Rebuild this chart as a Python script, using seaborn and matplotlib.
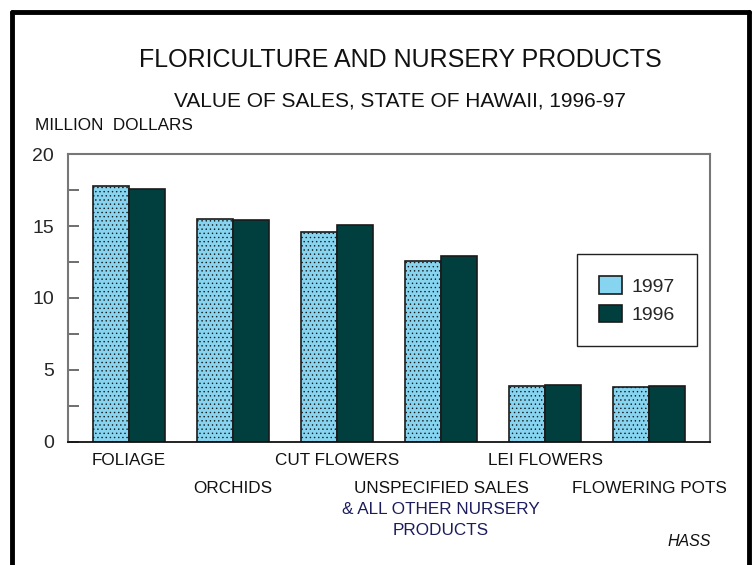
import matplotlib
matplotlib.use("Agg")
import matplotlib.pyplot as plt
import seaborn as sns
import pandas as pd
from matplotlib.lines import Line2D
from matplotlib.ticker import MultipleLocator

categories = ["FOLIAGE", "ORCHIDS", "CUT FLOWERS", "UNSPECIFIED SALES", "LEI FLOWERS", "FLOWERING POTS"]
years = ["1997", "1996"]
values_1997 = [17.8, 15.5, 14.6, 12.6, 3.85, 3.78]
values_1996 = [17.6, 15.4, 15.1, 12.95, 3.98, 3.88]
yticks = [0, 5, 10, 15, 20]

df = pd.DataFrame({
    "category": categories * 2,
    "year": [years[0]] * len(categories) + [years[1]] * len(categories),
    "value": values_1997 + values_1996,
})

sns.set_theme(style="white")
plt.rcParams["font.family"] = ["Liberation Sans", "DejaVu Sans"]
plt.rcParams["hatch.color"] = "#5ab6d6"
plt.rcParams["hatch.linewidth"] = 0.5

fig = plt.figure(figsize=(7.52, 5.65), dpi=100)
ax = fig.add_axes([68/752, 1-441.7/565, (710-68)/752, (441.7-154.3)/565])

palette = {"1997": "#86d4ef", "1996": "#003f3e"}
sns.barplot(data=df, x="category", y="value", hue="year", order=categories,
            hue_order=years, palette=palette, width=0.7, saturation=1,
            edgecolor="#1a1a1a", linewidth=1.2, ax=ax)

# dotted texture on light bars
for p in ax.patches[:len(categories)]:
    p.set_hatch("....")

ax.set_xlim(-61/104, -61/104 + 642/104)
ax.set_ylim(0, 20)
ax.set_yticks(yticks)
ax.set_yticklabels([str(v) for v in yticks], fontsize=14)
ax.yaxis.set_minor_locator(MultipleLocator(2.5))
ax.tick_params(axis="y", which="both", direction="in", length=8, width=1.2,
               color="#555555", left=True, pad=10)
ax.tick_params(axis="x", length=0)
ax.set_xlabel("")
ax.set_ylabel("")

ax.set_xticks(range(len(categories)))
ax.set_xticklabels(categories, fontsize=12.3, color="#111111")
for i, t in enumerate(ax.xaxis.get_major_ticks()):
    t.set_pad(8 if i % 2 == 0 else 28.5)

ax.text(3, -0.272, "& ALL OTHER NURSERY\nPRODUCTS", transform=ax.get_xaxis_transform(),
        ha="center", va="center", fontsize=12.3, color="#1c1c5c", linespacing=1.45)

for s in ["left", "top", "right"]:
    ax.spines[s].set_color("#777777")
    ax.spines[s].set_linewidth(1.5)
ax.spines["bottom"].set_color("#111111")
ax.spines["bottom"].set_linewidth(1.3)

leg = ax.legend(loc="upper left", bbox_to_anchor=(0.793, 0.653), fontsize=14,
                frameon=True, fancybox=False, edgecolor="#222222", framealpha=1,
                borderpad=1.15, handlelength=1.15, handleheight=1.0, handletextpad=0.5,
                labelspacing=0.45, borderaxespad=0)
leg.get_frame().set_linewidth(1.0)

fig.text(400/752, 1-60/565, "FLORICULTURE AND NURSERY PRODUCTS", ha="center", va="center",
         fontsize=18, color="#111111")
fig.text(400/752, 1-101/565, "VALUE OF SALES, STATE OF HAWAII, 1996-97", ha="center", va="center",
         fontsize=15, color="#111111")
fig.text(35/752, 1-126/565, "MILLION  DOLLARS", ha="left", va="center", fontsize=12.3, color="#111111")
fig.text(711/752, 1-542/565, "HASS", ha="right", va="center", fontsize=11.5, style="italic", color="#111111")

# page border
fig.add_artist(Line2D([11.5/752, 11.5/752], [0, 1-11.5/565], transform=fig.transFigure, color="black", lw=3.5))
fig.add_artist(Line2D([11.5/752, 749/752], [1-11.5/565, 1-11.5/565], transform=fig.transFigure, color="black", lw=3.5))
fig.add_artist(Line2D([749/752, 749/752], [0, 1-11.5/565], transform=fig.transFigure, color="black", lw=3.5))

fig.savefig("out.png", dpi=100)
